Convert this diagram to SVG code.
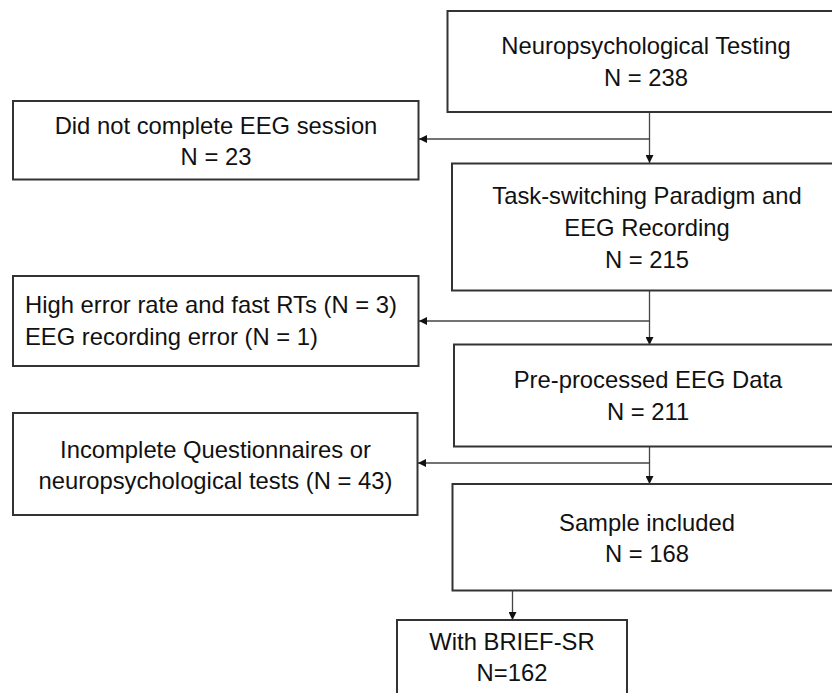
<svg xmlns="http://www.w3.org/2000/svg" width="832" height="693" viewBox="0 0 832 693">
<defs>
<style>
.box{fill:#fff;stroke:#333;stroke-width:2}
.t{font-family:"Liberation Sans",Arial,sans-serif;font-size:23.8px;fill:#111;text-anchor:middle}
.l{text-anchor:start}
.c{stroke:#444;stroke-width:1.3;fill:none;marker-end:url(#ah)}
</style>
<marker id="ah" viewBox="0 0 10 10" refX="10" refY="5" markerWidth="8" markerHeight="8" markerUnits="userSpaceOnUse" orient="auto">
<path d="M0,0 L10,5 L0,10 Z" fill="#111"/>
</marker>
</defs>
<rect width="832" height="693" fill="#fff"/>
<g id="connectors">
<path class="c" d="M649.5,112 V163"/>
<path class="c" d="M649.5,139 H419"/>
<path class="c" d="M649.5,290 V345"/>
<path class="c" d="M649.5,321 H419"/>
<path class="c" d="M649.5,446 V484"/>
<path class="c" d="M649.5,463 H418"/>
<path class="c" d="M512.5,590 V620"/>
</g>
<g id="n1">
<rect class="box" x="447.5" y="11" width="400" height="101"/>
<text class="t" x="646" y="54">Neuropsychological Testing</text>
<text class="t" x="646" y="86">N = 238</text>
</g>
<g id="e1">
<rect class="box" x="13" y="101" width="405.5" height="78.5"/>
<text class="t" x="216" y="134">Did not complete EEG session</text>
<text class="t" x="216" y="165">N = 23</text>
</g>
<g id="n2">
<rect class="box" x="452" y="163.5" width="400" height="127"/>
<text class="t" x="647" y="204">Task-switching Paradigm and</text>
<text class="t" x="647" y="236">EEG Recording</text>
<text class="t" x="647" y="268">N  = 215</text>
</g>
<g id="e2">
<rect class="box" x="13" y="276" width="405.5" height="90"/>
<text class="t l" x="25" y="313">High error rate and fast RTs (N = 3)</text>
<text class="t l" x="25" y="345">EEG recording error (N = 1)</text>
</g>
<g id="n3">
<rect class="box" x="454" y="344.5" width="400" height="102"/>
<text class="t" x="648" y="388">Pre-processed EEG Data</text>
<text class="t" x="648" y="420">N  = 211</text>
</g>
<g id="e3">
<rect class="box" x="13" y="413" width="404.5" height="102"/>
<text class="t" x="215.5" y="458">Incomplete Questionnaires or</text>
<text class="t" x="215.5" y="489">neuropsychological tests (N = 43)</text>
</g>
<g id="n4">
<rect class="box" x="452.5" y="484" width="400" height="106.5"/>
<text class="t" x="647" y="531">Sample included</text>
<text class="t" x="647" y="562">N = 168</text>
</g>
<g id="n5">
<rect class="box" x="397" y="620" width="230" height="100"/>
<text class="t" x="512" y="650">With BRIEF-SR</text>
<text class="t" x="512" y="681">N=162</text>
</g>
</svg>
